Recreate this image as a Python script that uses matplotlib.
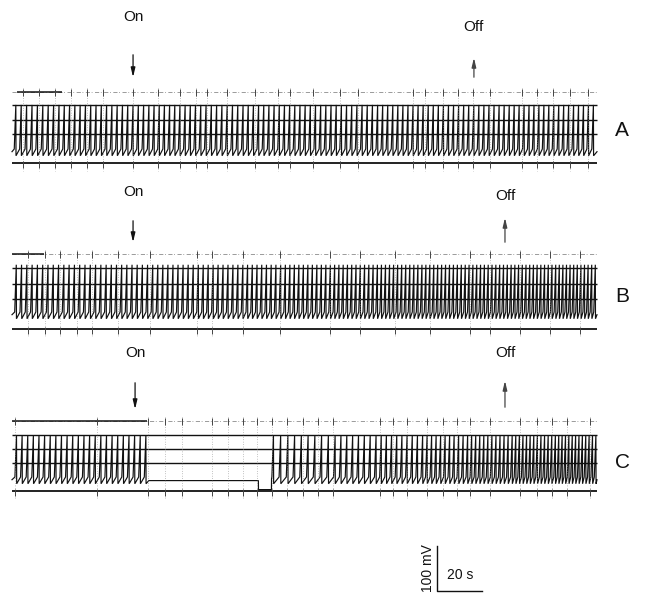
import numpy as np
import matplotlib
matplotlib.use("Agg")
import matplotlib.pyplot as plt

# ---------------- data ----------------
WINDOW_S = 20.0          # width of one reading window, s
T_END = 260.0            # recording length shown, s
# mean inter-spike interval (s) in consecutive 20-s windows
isi_A = [2.40, 2.35, 2.35, 2.30, 2.35, 2.30, 2.30, 2.30, 2.25, 2.25, 2.25, 2.20, 2.20]
isi_B = [2.35, 2.35, 2.30, 2.25, 2.20, 2.10, 2.00, 1.90, 1.80, 1.75, 1.70, 1.65, 1.60]
isi_C = [2.50, 2.50, 2.50, np.nan, np.nan, 3.20, 3.00, 2.60, 2.30, 2.00, 1.80, 1.60, 1.50]
first_spike = {"A": 1.0, "B": 1.2, "C": 1.3}
silence_C = (60.5, 115.5)        # s, no firing
silent_level_C = -8.0            # mV re threshold
pulse_C = (109.5, 115.3, -28.0)  # start s, end s, level mV

spike_peak_mV = {"A": 98.0, "B": 105.0, "C": 92.0}
trough_mV = -15.0

on_time = {"A": 53.8, "B": 53.8, "C": 54.7}
off_time = {"A": 205.3, "B": 219.1, "C": 219.1}
trace_labels = ["A", "B", "C"]

# event-marker ticks on the recording (s)
marks_A = [4.9, 12.0, 19.1, 26.2, 33.3, 40.4, 53.8, 64.9, 74.7, 81.8, 86.7, 95.6,
           108.0, 118.2, 123.6, 133.8, 145.8, 153.8, 178.2, 183.6, 191.6, 198.2,
           204.9, 212.4, 226.7, 233.3, 240.4, 248.0, 256.0]
marks_B = [7.1, 14.7, 21.3, 28.9, 35.6, 47.1, 61.3, 82.2, 88.9, 102.7, 119.1,
           141.3, 154.7, 170.2, 185.8, 203.6, 212.4, 225.8, 239.1, 252.4]
marks_C = [1.3, 37.8, 60.4, 68.0, 75.6, 88.9, 96.0, 102.7, 108.9, 115.6, 122.2,
           129.3, 136.0, 142.7, 163.6, 169.3, 175.6, 184.4, 191.6, 197.8, 203.6,
           212.4, 225.8, 233.3, 240.0, 246.7, 256.9]

scale_mV = 100
scale_s = 20

# ---------------- layout ----------------
W, H = 645, 598
PX_PER_S = 2.25
PX_PER_MV = 0.45
X0 = 12  # px of t = 0

layout = {
    "A": dict(base=149, top=92, bottom=163, grid=[105, 119.5, 134], on_y=17, off_y=27,
              on_arrow=(52, 80), off_arrow=(80, 55), lab_y=130, top_bold=(2, 22)),
    "B": dict(base=312, top=254, bottom=329, grid=[268, 284, 299], on_y=192, off_y=196,
              on_arrow=(218, 245), off_arrow=(245, 215), lab_y=296, top_bold=(0, 14)),
    "C": dict(base=477, top=421, bottom=491, grid=[435, 449, 463], on_y=353, off_y=353,
              on_arrow=(380, 412), off_arrow=(410, 378), lab_y=462, top_bold=(0, 60)),
}
marks = {"A": marks_A, "B": marks_B, "C": marks_C}
isis = {"A": isi_A, "B": isi_B, "C": isi_C}

UP = 0.7
DOWN = 0.08


def spike_times(isi, t0, silence=None):
    out = []
    t = t0
    while t < T_END - 0.5:
        if silence is not None and silence[0] <= t < silence[1]:
            t = silence[1]
            continue
        out.append(t)
        w = min(int(t // WINDOW_S), len(isi) - 1)
        t += isi[w]
    return out


def build_trace(key):
    sil = silence_C if key == "C" else None
    st = spike_times(isis[key], first_spike[key], sil)
    peak = spike_peak_mV[key]
    xs, ys = [0.0], [-6.0]
    for i, s in enumerate(st):
        xs += [s, s + UP, s + UP + DOWN]
        ys += [0.0, peak, trough_mV]
        nxt = st[i + 1] if i + 1 < len(st) else None
        if sil is not None and nxt is not None and s < sil[0] and nxt >= sil[1]:
            xs += [s + 2.0, pulse_C[0], pulse_C[0] + 0.05, pulse_C[1], pulse_C[1] + 0.05]
            ys += [silent_level_C, silent_level_C, pulse_C[2], pulse_C[2], -4.0]
    xs.append(T_END)
    ys.append(-6.0)
    return np.array(xs), np.array(ys)


fig = plt.figure(figsize=(W / 100, H / 100), dpi=100)
ax = fig.add_axes([0, 0, 1, 1])
ax.set_xlim(-X0 / PX_PER_S, (W - X0) / PX_PER_S)
ax.set_ylim(H, 0)
ax.axis("off")

ink = "#111111"
font = "Liberation Sans"

for key in trace_labels:
    L = layout[key]
    xs, ys = build_trace(key)
    ax.plot(xs, L["base"] - ys * PX_PER_MV, color=ink, lw=0.85, solid_joinstyle="miter")
    # chart grid lines
    for gy in L["grid"]:
        ax.hlines(gy, 0, T_END, color=ink, lw=1.0)
    # bottom marker line and top (broken) marker line
    ax.hlines(L["bottom"], 0, T_END, color=ink, lw=1.3)
    ax.hlines(L["top"], 0, T_END, color="#8a8a8a", lw=0.6, linestyles=(0, (5, 2, 1, 3)))
    ax.hlines(L["top"], *L["top_bold"], color=ink, lw=1.1)
    # event marks
    for m in marks[key]:
        ax.vlines(m, L["top"] - 4, L["bottom"] + 8, color="#8a8a8a", lw=0.5,
                  linestyles=(0, (1, 2.5)))
        ax.vlines(m, L["top"] - 3, L["top"] + 4, color="#444444", lw=0.7)
        ax.vlines(m, L["bottom"] - 2, L["bottom"] + 5, color="#444444", lw=0.7)
    # On / Off annotations
    ax.text(on_time[key], L["on_y"], "On", ha="center", va="center",
            fontsize=11, family=font, color=ink)
    ax.text(off_time[key], L["off_y"], "Off", ha="center", va="center",
            fontsize=11, family=font, color=ink)
    a0, a1 = L["on_arrow"]
    ax.annotate("", xy=(on_time[key], a1), xytext=(on_time[key], a0),
                arrowprops=dict(arrowstyle="-|>,head_length=0.55,head_width=0.13",
                                color=ink, lw=0.9))
    b0, b1 = L["off_arrow"]
    ax.annotate("", xy=(off_time[key], b1), xytext=(off_time[key], b0),
                arrowprops=dict(arrowstyle="-|>,head_length=0.55,head_width=0.13",
                                color="#444444", lw=0.9))
    ax.text((622 - X0) / PX_PER_S, L["lab_y"], key, ha="center", va="center",
            fontsize=15, family=font, color=ink)

# scale bar
sb_t = (437 - X0) / PX_PER_S
sb_y = 591
ax.plot([sb_t, sb_t, sb_t + scale_s], [sb_y - scale_mV * PX_PER_MV, sb_y, sb_y],
        color=ink, lw=1.0)
ax.text(sb_t - 4.0, sb_y - scale_mV * PX_PER_MV / 2, f"{scale_mV} mV", rotation=90,
        ha="center", va="center", fontsize=10, family=font, color=ink)
ax.text(sb_t + 10.2, 575, f"{scale_s} s", ha="center", va="center",
        fontsize=10, family=font, color=ink)

fig.savefig("out.png", dpi=100, facecolor="white")
